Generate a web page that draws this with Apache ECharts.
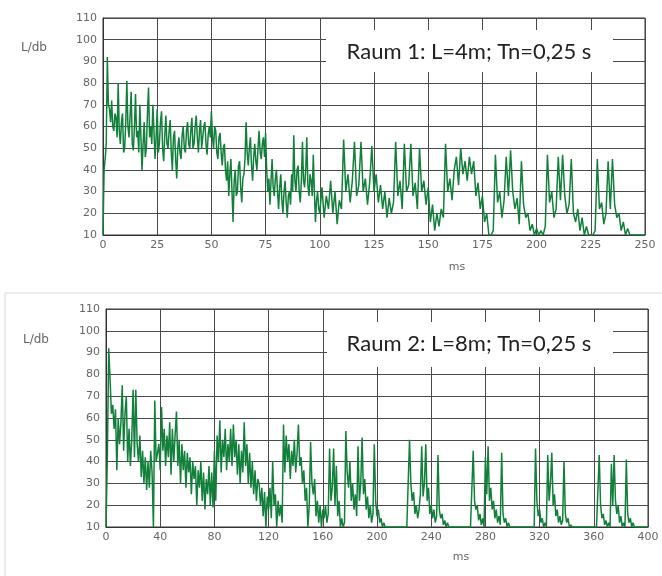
<!DOCTYPE html>
<html>
<head>
<meta charset="utf-8">
<script src="https://cdn.jsdelivr.net/npm/echarts@6/dist/echarts.min.js"></script>
<style>
html,body{margin:0;padding:0;background:#fff;}
#c{width:662px;height:576px;}
</style>
</head>
<body>
<div id="c"></div>
<script>
// ---- Data ----
const titles = ['Raum 1: L=4m; Tn=0,25 s', 'Raum 2: L=8m; Tn=0,25 s'];
const yLabelName = 'L/db';
const xLabelName = 'ms';
const xMaxTop = 250, xIntTop = 25;
const xMaxBottom = 400, xIntBottom = 40;
const yMin = 10, yMax = 110, yInt = 10;

// Raum 1, early part: 0..100 ms, one value per 0.5 ms
const topEarlyStart = 0, topEarlyStep = 0.5;
const levelTopEarly = [
 10,40,45,52,92,70,68,62,72,60,58,66,64,55,80,58,52,62,66,48,
 50,62,81,60,55,65,76,52,49,60,75,55,58,48,70,55,40,52,62,46,
 50,66,78,55,60,52,70,58,45,55,68,48,52,62,67,50,44,56,65,52,
 50,58,63,48,40,55,58,45,36,50,55,48,45,56,60,50,48,58,62,52,
 50,58,64,50,52,60,65,55,48,58,63,50,55,60,62,52,47,56,60,55,
 67,55,50,60,58,48,45,55,57,48,42,50,52,40,35,44,28,38,45,30,
 16,35,40,28,30,42,44,32,25,36,38,45,62,48,42,50,55,42,35,46,
 52,44,40,50,58,48,45,52,55,46,57,40,30,36,24,35,45,32,28,36,
 40,30,22,32,38,26,20,30,35,25,18,28,30,24,38,30,56,35,30,40,
 42,30,25,35,53,35,32,40,55,33,28,38,35,28,47,30,16,26,30,22,
 20
];
// Raum 1, late part: 101..250 ms, one value per ms
const topLateStart = 101, topLateStep = 1;
const levelTopLate = [
    32,18,28,22,35,20,30,15,26,
 22,54,30,38,25,35,53,28,33,53,
 30,36,24,34,51,30,38,25,33,22,
 30,18,27,20,25,53,28,35,22,52,
 30,33,52,28,34,22,50,30,35,24,
 32,16,24,12,20,14,22,18,52,30,
 36,26,40,46,33,50,38,44,35,46,
 38,44,28,34,22,28,16,20,10,10,
 12,47,25,30,18,26,46,28,49,30,
 22,27,15,44,24,18,20,12,15,10,
 13,10,12,10,14,47,25,30,18,22,
 46,26,47,28,20,24,45,20,16,22,
 12,18,10,14,10,10,10,12,45,22,
 25,15,20,44,22,45,24,18,20,12,
 16,10,13,10,10,10,10,10,10,10,
 10
];

// Raum 2: 0..400 ms, one value per ms
const bottomStart = 0, bottomStep = 1;
const levelBottom = [
 10,42,92,78,62,66,55,64,36,60,
 48,58,75,45,62,70,40,55,38,50,
 73,42,73,48,40,52,33,45,30,42,
 27,40,28,45,35,10,68,40,44,48,
 36,65,45,55,38,52,42,58,34,55,
 40,52,63,38,50,30,48,36,45,28,
 44,35,42,25,40,32,38,20,36,28,
 40,22,35,18,32,25,38,20,35,19,
 45,22,52,40,59,35,50,42,55,36,
 48,40,55,38,57,42,50,34,48,30,
 45,35,58,38,48,30,44,28,40,25,
 36,22,32,30,20,28,15,26,10,24,
 18,28,14,40,20,25,10,22,15,20,
 12,57,35,52,40,48,32,45,38,50,
 35,44,57,38,42,30,36,22,28,10,
 20,49,30,25,32,15,22,12,20,10,
 18,14,20,12,16,46,22,28,46,20,
 38,15,22,10,14,10,12,54,35,28,
 40,22,30,18,25,15,47,22,30,51,
 25,32,18,24,14,20,12,16,48,22,
 15,18,12,14,10,12,10,10,10,10,
 10,10,10,10,10,10,10,10,10,10,
 10,10,10,10,50,30,22,26,16,20,
 14,18,25,47,24,30,48,22,28,16,
 20,14,18,12,15,43,18,14,16,11,
 13,10,12,10,10,10,10,10,10,10,
 10,10,10,10,10,10,10,10,10,10,
 10,45,22,18,20,13,16,11,14,10,
 42,25,47,22,28,18,22,14,18,12,
 15,11,44,16,12,14,10,12,10,10,
 10,10,10,10,10,10,10,10,10,10,
 10,10,10,10,10,10,10,46,22,15,
 18,12,14,10,12,10,43,22,30,44,
 20,25,15,18,12,15,11,13,40,16,
 12,14,10,11,10,10,10,10,10,10,
 10,10,10,10,10,10,10,10,10,10,
 10,10,10,10,43,20,14,16,11,13,
 10,12,10,39,20,43,22,16,20,12,
 15,10,12,10,41,16,12,14,10,12,
 10,10,10,10,10,10,10,10,10,10,
 10
];

// ---- Chart ----
function pairs(arr, start, step){ return arr.map((v,i)=>[start + i*step, v]); }
const topData = pairs(levelTopEarly, topEarlyStart, topEarlyStep)
  .concat(pairs(levelTopLate, topLateStart, topLateStep));
const bottomData = pairs(levelBottom, bottomStart, bottomStep);

const chart = echarts.init(document.getElementById('c'), null, {renderer:'canvas'});
const labelStyle = {color:'#666', fontFamily:'DejaVu Sans', fontSize:11};
const splitStyle = {show:true, lineStyle:{color:'#4a4a4a', width:1}};
const lineCol = '#12803a';

function xAx(gi, max, interval){
  return {type:'value', gridIndex:gi, min:0, max:max, interval:interval,
    axisLine:{show:true, lineStyle:{color:'#333', width:1}},
    axisTick:{show:false},
    axisLabel:Object.assign({margin:5}, labelStyle),
    splitLine:splitStyle};
}
function yAx(gi){
  return {type:'value', gridIndex:gi, min:yMin, max:yMax, interval:yInt,
    axisLine:{show:true, lineStyle:{color:'#333', width:1}},
    axisTick:{show:false},
    axisLabel:Object.assign({margin:6}, labelStyle),
    splitLine:splitStyle};
}

chart.setOption({
  animation:false,
  backgroundColor:'#fff',
  grid:[
    {left:103, top:18, width:542, height:217, show:true, borderColor:'#333', borderWidth:1},
    {left:106, top:309, width:542, height:218, show:true, borderColor:'#333', borderWidth:1}
  ],
  xAxis:[xAx(0, xMaxTop, xIntTop), xAx(1, xMaxBottom, xIntBottom)],
  yAxis:[yAx(0), yAx(1)],
  series:[
    {type:'line', xAxisIndex:0, yAxisIndex:0, data:topData,
     showSymbol:false, lineStyle:{color:lineCol, width:1.5}, z:3},
    {type:'line', xAxisIndex:1, yAxisIndex:1, data:bottomData,
     showSymbol:false, lineStyle:{color:lineCol, width:1.5}, z:3}
  ],
  graphic:[
    {type:'rect', z:-1, shape:{x:5, y:293, width:700, height:300}, style:{fill:'none', stroke:'#d9d9d9', lineWidth:1}},
    {type:'rect', z:10, shape:{x:326, y:30, width:287, height:42}, style:{fill:'#fff'}},
    {type:'text', z:11, x:469, y:52, style:{text:titles[0], font:'22px Lato', fill:'#222', align:'center', verticalAlign:'middle'}},
    {type:'rect', z:10, shape:{x:327, y:322, width:286, height:45}, style:{fill:'#fff'}},
    {type:'text', z:11, x:469, y:344, style:{text:titles[1], font:'22px Lato', fill:'#222', align:'center', verticalAlign:'middle'}},
    {type:'text', z:11, x:34, y:48, style:{text:yLabelName, font:'12px "DejaVu Sans"', fill:'#666', align:'center', verticalAlign:'middle'}},
    {type:'text', z:11, x:36, y:340, style:{text:yLabelName, font:'12px "DejaVu Sans"', fill:'#666', align:'center', verticalAlign:'middle'}},
    {type:'text', z:11, x:457, y:267, style:{text:xLabelName, font:'11px "DejaVu Sans"', fill:'#666', align:'center', verticalAlign:'middle'}},
    {type:'text', z:11, x:461, y:557, style:{text:xLabelName, font:'11px "DejaVu Sans"', fill:'#666', align:'center', verticalAlign:'middle'}}
  ]
});
</script>
</body>
</html>
